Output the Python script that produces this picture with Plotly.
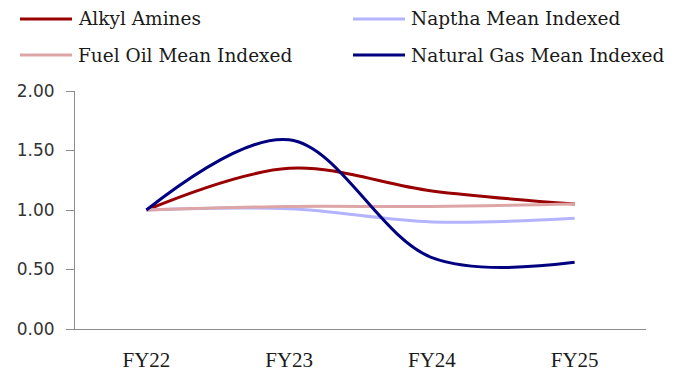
import plotly.graph_objects as go

# Financial years on the category axis
years = ["FY22", "FY23", "FY24", "FY25"]

# Indexed series (FY22 = 1.00)
alkyl_amines = [1.00, 1.35, 1.16, 1.05]
naptha_mean = [1.00, 1.01, 0.90, 0.93]
fuel_oil_mean = [1.00, 1.03, 1.03, 1.05]
natural_gas_mean = [1.00, 1.59, 0.60, 0.56]

y_ticks = [0.0, 0.5, 1.0, 1.5, 2.0]

SERIF = "Liberation Serif"
LEGEND_FONT = "DejaVu Serif"
SANS = "DejaVu Sans"
TEXT = "#1a1a1a"
AXIS = "#8c8c8c"

series = [
    ("Alkyl Amines", alkyl_amines, "#990000"),
    ("Naptha Mean Indexed", naptha_mean, "#B3B3FF"),
    ("Fuel Oil Mean Indexed", fuel_oil_mean, "#DDA5A5"),
    ("Natural Gas Mean Indexed", natural_gas_mean, "#000080"),
]

W, H = 685, 377
ML, MR, MT, MB = 75, 39, 91, 48
PW, PH = W - ML - MR, H - MT - MB


def px_x(p):
    return (p - ML) / PW


def px_y(p):
    return (H - MB - p) / PH


fig = go.Figure()
for name, vals, color in series:
    fig.add_trace(go.Scatter(
        x=years, y=vals, name=name, mode="lines",
        line=dict(color=color, width=3, shape="spline", smoothing=1.0),
        showlegend=False,
    ))

# Two-column legend drawn above the plot
legend_slots = [(20, 19), (353, 19), (20, 55), (353, 55)]
shapes, annotations = [], []
for (name, _, color), (lx, ly) in zip(series, legend_slots):
    shapes.append(dict(
        type="line", xref="paper", yref="paper",
        x0=px_x(lx), x1=px_x(lx + 52), y0=px_y(ly), y1=px_y(ly),
        line=dict(color=color, width=3),
    ))
    annotations.append(dict(
        xref="paper", yref="paper", x=px_x(lx + 56), y=px_y(ly),
        xanchor="left", yanchor="middle", text=name, showarrow=False,
        font=dict(family=LEGEND_FONT, size=18.5, color=TEXT),
    ))

fig.update_layout(
    width=W, height=H,
    margin=dict(l=ML, r=MR, t=MT, b=MB, autoexpand=False),
    paper_bgcolor="white", plot_bgcolor="white",
    showlegend=False,
    shapes=shapes, annotations=annotations,
    xaxis=dict(
        type="category", range=[-0.5, 3.5], showgrid=False,
        showline=True, linecolor=AXIS, linewidth=1, ticks="",
        ticklabelstandoff=12, automargin=False,
        tickfont=dict(family=SERIF, size=21, color=TEXT),
    ),
    yaxis=dict(
        range=[0, 2], tickvals=y_ticks, tickformat=".2f",
        showgrid=False, showline=True, linecolor=AXIS, linewidth=1,
        ticks="outside", ticklen=8, tickcolor=AXIS,
        ticklabelstandoff=8, zeroline=False, automargin=False,
        tickfont=dict(family=SANS, size=17, color="#333333"),
    ),
)

fig.write_html("out.html")
